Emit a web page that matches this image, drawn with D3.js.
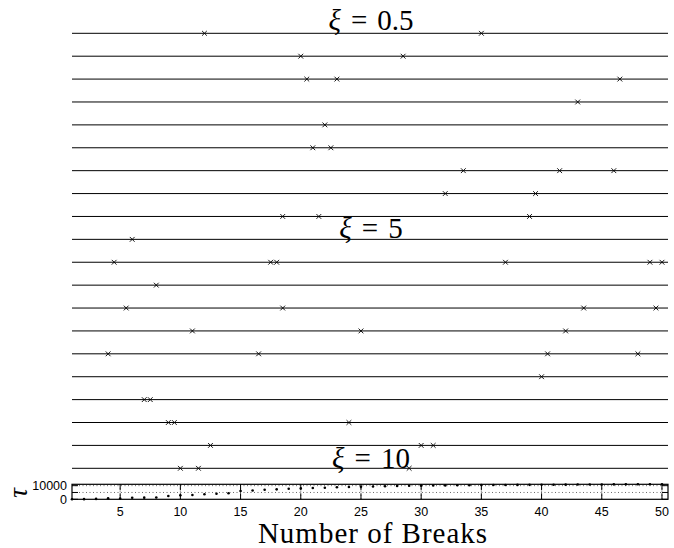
<!DOCTYPE html>
<html>
<head>
<meta charset="utf-8">
<script src="https://cdn.jsdelivr.net/npm/d3@7"></script>
<style>
  html, body { margin: 0; padding: 0; background: #fff; }
  svg { display: block; }
</style>
</head>
<body>
<svg id="chart" width="674" height="548"></svg>
<script>
// break locations for each row, top to bottom
var breaks = [
  [12, 35],
  [20, 28.5],
  [20.5, 23, 46.5],
  [43],
  [22],
  [21, 22.5],
  [33.5, 41.5, 46],
  [32, 39.5],
  [18.5, 21.5, 39],
  [6],
  [4.5, 17.5, 18, 37, 49, 50],
  [8],
  [5.5, 18.5, 43.5, 49.5],
  [11, 25, 42],
  [4, 16.5, 40.5, 48],
  [40],
  [7, 7.5],
  [9, 9.5, 24],
  [12.5, 30, 31],
  [10, 11.5, 29]
]
var xiLabels = ['0.5', '5', '10']
var nBreaks = d3.range(1, 51)
var tau = [0, 100, 300, 700, 500, 1100, 1200, 1300, 2400, 2900,
  3200, 3700, 4100, 4400, 6100, 6400, 7000, 7300, 7700, 8000,
  8300, 8500, 8800, 9000, 9200, 9400, 9600, 9700, 9900, 10000,
  10100, 10200, 10300, 10350, 10400, 10450, 10500, 10550, 10600, 10650,
  10700, 10750, 10800, 10850, 10900, 10950, 10980, 11000, 11000, 11000]
var xTicks = [5, 10, 15, 20, 25, 30, 35, 40, 45, 50]
var yTicks = [0, 5000, 10000]
var yTickLabels = ['0', '', '10000']

var svg = d3.select('#chart')
var left = 72, right = 668
var x = d3.scaleLinear().domain([1, 50.5]).range([left, right])
var row = d3.scaleLinear().domain([0, breaks.length - 1]).range([33.3, 468.3])
var box = { top: 484.3, bottom: 499.3 }
var y = d3.scaleLinear().domain([0, 11000]).range([box.bottom, box.top])
var serif = '"Liberation Serif", "DejaVu Serif", serif'

// rows
svg.append('g')
  .selectAll('line')
  .data(breaks)
  .join('line')
  .attr('x1', left).attr('x2', right)
  .attr('y1', (d, i) => row(i)).attr('y2', (d, i) => row(i))
  .attr('stroke', '#000')
  .attr('stroke-width', 1)

var marks = []
breaks.forEach((b, i) => b.forEach(v => marks.push({ v: v, r: i })))
var s = 2.4
svg.append('g')
  .selectAll('path')
  .data(marks)
  .join('path')
  .attr('d', d => {
    var cx = x(d.v), cy = row(d.r)
    return `M${cx - s},${cy - s}L${cx + s},${cy + s}M${cx - s},${cy + s}L${cx + s},${cy - s}`
  })
  .attr('stroke', '#000')
  .attr('stroke-width', 0.9)
  .attr('fill', 'none')

// xi labels
var labelY = [29.5, 237.5, 467.5]
svg.append('g')
  .attr('font-family', serif)
  .attr('font-size', 29)
  .attr('fill', '#000')
  .selectAll('text')
  .data(xiLabels)
  .join('text')
  .attr('x', (left + right) / 2 + 1)
  .attr('y', (d, i) => labelY[i])
  .attr('text-anchor', 'middle')
  .each(function (d) {
    var t = d3.select(this)
    t.append('tspan').attr('font-style', 'italic').text('ξ')
    t.append('tspan').attr('dx', 10).text('=')
    t.append('tspan').attr('dx', 10).text(d)
  })

// bottom tau axes
var g = svg.append('g')
g.selectAll('line.gx')
  .data(xTicks)
  .join('line')
  .attr('class', 'gx')
  .attr('x1', d => x(d)).attr('x2', d => x(d))
  .attr('y1', box.top).attr('y2', box.bottom)
  .attr('stroke', '#444').attr('stroke-width', 0.8)
  .attr('stroke-dasharray', '1,2.5')
g.selectAll('line.gy')
  .data(yTicks.slice(1))
  .join('line')
  .attr('class', 'gy')
  .attr('x1', left).attr('x2', right)
  .attr('y1', d => y(d)).attr('y2', d => y(d))
  .attr('stroke', '#444').attr('stroke-width', 0.8)
  .attr('stroke-dasharray', '1,2.5')

var tl = 6
g.selectAll('path.tx')
  .data(xTicks)
  .join('path')
  .attr('class', 'tx')
  .attr('d', d => `M${x(d)},${box.bottom}v${-tl}M${x(d)},${box.top}v${tl}`)
  .attr('stroke', '#000').attr('stroke-width', 1)
g.selectAll('path.ty')
  .data(yTicks)
  .join('path')
  .attr('class', 'ty')
  .attr('d', d => `M${left},${y(d)}h${tl}M${right},${y(d)}h${-tl}`)
  .attr('stroke', '#000').attr('stroke-width', 1)

g.selectAll('circle')
  .data(nBreaks)
  .join('circle')
  .attr('cx', d => x(d))
  .attr('cy', (d, i) => y(tau[i]))
  .attr('r', 1.3)
  .attr('fill', '#000')

g.append('rect')
  .attr('x', left).attr('y', box.top)
  .attr('width', right - left).attr('height', box.bottom - box.top)
  .attr('fill', 'none').attr('stroke', '#000').attr('stroke-width', 1.2)

var tf = '"Liberation Sans", Arial, sans-serif'
g.selectAll('text.xl')
  .data(xTicks)
  .join('text')
  .attr('class', 'xl')
  .attr('x', d => x(d)).attr('y', 515.5)
  .attr('text-anchor', 'middle')
  .attr('font-family', tf).attr('font-size', 12.5)
  .text(d => d)
g.selectAll('text.yl')
  .data(yTicks)
  .join('text')
  .attr('class', 'yl')
  .attr('x', 67).attr('y', d => y(d) + 4.5)
  .attr('text-anchor', 'end')
  .attr('font-family', tf).attr('font-size', 12.5)
  .text((d, i) => yTickLabels[i])

svg.append('text')
  .attr('x', 373).attr('y', 543)
  .attr('text-anchor', 'middle')
  .attr('font-family', serif)
  .attr('font-size', 29)
  .attr('letter-spacing', 1)
  .text('Number of Breaks')

svg.append('text')
  .attr('transform', 'translate(27,493) rotate(-90)')
  .attr('text-anchor', 'middle')
  .attr('font-family', serif)
  .attr('font-style', 'italic')
  .attr('font-size', 27)
  .text('τ')
</script>
</body>
</html>
